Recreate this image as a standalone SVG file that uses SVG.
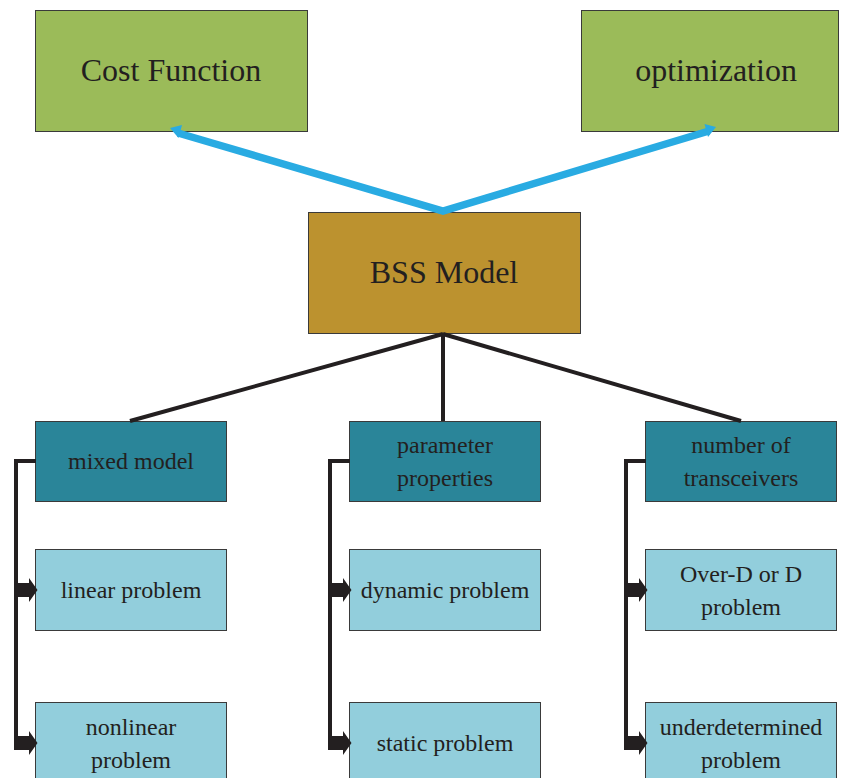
<svg xmlns="http://www.w3.org/2000/svg" width="843" height="778" viewBox="0 0 843 778">
<defs>
<style>
.box{stroke:#3a3a3a;stroke-width:1}
.g{fill:#9BBB59}
.o{fill:#BC922F}
.t{fill:#2A8599}
.l{fill:#92CEDC}
.big{font-size:32px}
.mid{font-size:24px}
.blue{stroke:#29ABE2;stroke-width:7.5;fill:none;stroke-linejoin:miter}
.blk{stroke:#231F20;stroke-width:4;fill:none}
.ah{fill:#231F20}
.bh{fill:#29ABE2}
</style>
</defs>
<g font-family="'Liberation Serif','Times New Roman',serif" fill="#231F20" text-anchor="middle">
<g id="cost-function"><rect class="box g" x="35.5" y="10.5" width="272" height="121"/><text class="big" x="171" y="81">Cost Function</text></g>
<g id="optimization"><rect class="box g" x="581.5" y="10.5" width="257" height="121"/><text class="big" x="716" y="81">optimization</text></g>
<g id="bss-model"><rect class="box o" x="308.5" y="212.5" width="272" height="121"/><text class="big" x="444" y="283">BSS Model</text></g>
<g id="mixed-model"><rect class="box t" x="35.5" y="421.5" width="191" height="80"/><text class="mid" x="131" y="469">mixed model</text></g>
<g id="parameter-properties"><rect class="box t" x="349.5" y="421.5" width="191" height="80"/><text class="mid" x="445" y="453">parameter</text><text class="mid" x="445" y="486">properties</text></g>
<g id="number-of-transceivers"><rect class="box t" x="645.5" y="421.5" width="191" height="80"/><text class="mid" x="741" y="453">number of</text><text class="mid" x="741" y="486">transceivers</text></g>
<g id="linear-problem"><rect class="box l" x="35.5" y="549.5" width="191" height="81"/><text class="mid" x="131" y="598">linear problem</text></g>
<g id="dynamic-problem"><rect class="box l" x="349.5" y="549.5" width="191" height="81"/><text class="mid" x="445" y="598">dynamic problem</text></g>
<g id="over-d-problem"><rect class="box l" x="645.5" y="549.5" width="191" height="81"/><text class="mid" x="741" y="582">Over-D or D</text><text class="mid" x="741" y="615">problem</text></g>
<g id="nonlinear-problem"><rect class="box l" x="35.5" y="702.5" width="191" height="90"/><text class="mid" x="131" y="735">nonlinear</text><text class="mid" x="131" y="768">problem</text></g>
<g id="static-problem"><rect class="box l" x="349.5" y="702.5" width="191" height="90"/><text class="mid" x="445" y="751">static problem</text></g>
<g id="underdetermined-problem"><rect class="box l" x="645.5" y="702.5" width="191" height="90"/><text class="mid" x="741" y="735">underdetermined</text><text class="mid" x="741" y="768">problem</text></g>
</g>
<g id="connectors">
<polyline class="blue" points="178,133 443,211 709,131"/>
<polygon class="bh" points="170,128 182,125 178.5,138"/>
<polygon class="bh" points="716,127 708,137 704.5,124"/>
<line class="blk" x1="443" y1="334" x2="130" y2="421"/>
<line class="blk" x1="443" y1="334" x2="443" y2="421"/>
<line class="blk" x1="443" y1="334" x2="741" y2="421"/>
<polyline class="blk" points="36,461 16,461 16,745"/>
<polyline class="blk" points="350,461 330,461 330,745"/>
<polyline class="blk" points="646,461 626,461 626,745"/>
<path class="ah" d="M14,583 H29 V578 L37.5,590 L29,602 V597 H14 Z"/>
<path class="ah" d="M14,736 H29 V731 L37.5,743 L29,755 V750 H14 Z"/>
<path class="ah" d="M328,583 H343 V578 L351.5,590 L343,602 V597 H328 Z"/>
<path class="ah" d="M328,736 H343 V731 L351.5,743 L343,755 V750 H328 Z"/>
<path class="ah" d="M624,583 H639 V578 L647.5,590 L639,602 V597 H624 Z"/>
<path class="ah" d="M624,736 H639 V731 L647.5,743 L639,755 V750 H624 Z"/>
</g>
</svg>
